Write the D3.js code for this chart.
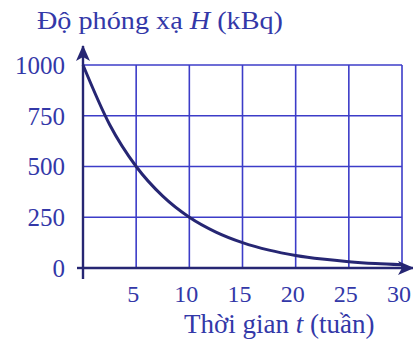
<!doctype html>
<html>
<head>
<meta charset="utf-8">
<style>
  body { margin: 0; background: #fff; }
  text { font-family: "Liberation Serif", "DejaVu Serif", serif; }
</style>
<script src="https://d3js.org/d3.v7.min.js"></script>
</head>
<body>
<svg width="413" height="341" id="chart"></svg>
<script>
  // data
  var weeks = [0, 2.5, 5, 7.5, 10, 12.5, 15, 17.5, 20, 22.5, 25, 27.5, 30];
  var activity = [1000, 707, 500, 354, 250, 177, 125, 88, 62, 44, 31, 22, 16];
  var xTicks = [5, 10, 15, 20, 25, 30];
  var yTicks = [0, 250, 500, 750, 1000];

  var gridColor = "#3c3cc8",
      textColor = "#3338a8",
      curveColor = "#262673";

  var svg = d3.select("svg");

  var x = d3.scaleLinear().domain([0, 30]).range([83, 402]),
      y = d3.scaleLinear().domain([0, 1000]).range([268, 65]);

  // grid
  svg.append("g").selectAll("line.v")
    .data(xTicks)
    .enter().append("line")
    .attr("x1", d => x(d)).attr("x2", d => x(d))
    .attr("y1", y(0)).attr("y2", y(1000))
    .attr("stroke", gridColor).attr("stroke-width", 1.6);

  svg.append("g").selectAll("line.h")
    .data(yTicks.filter(d => d > 0))
    .enter().append("line")
    .attr("x1", x(0)).attr("x2", x(30))
    .attr("y1", d => y(d)).attr("y2", d => y(d))
    .attr("stroke", gridColor).attr("stroke-width", 1.6);

  // axes with arrows
  svg.append("defs").append("marker")
    .attr("id", "arrow")
    .attr("viewBox", "0 0 16 14")
    .attr("refX", 15).attr("refY", 7)
    .attr("markerWidth", 16).attr("markerHeight", 14)
    .attr("markerUnits", "userSpaceOnUse")
    .attr("orient", "auto")
    .append("path").attr("d", "M0,0 L16,7 L0,14 L4,7 Z").attr("fill", curveColor);

  svg.append("line")
    .attr("x1", x(0)).attr("x2", 413)
    .attr("y1", y(0)).attr("y2", y(0))
    .attr("stroke", curveColor).attr("stroke-width", 2.4)
    .attr("marker-end", "url(#arrow)");

  svg.append("line")
    .attr("x1", x(0)).attr("x2", x(0))
    .attr("y1", y(0) + 11).attr("y2", 46)
    .attr("stroke", curveColor).attr("stroke-width", 2.4)
    .attr("marker-end", "url(#arrow)");

  svg.append("line")
    .attr("x1", x(0) - 6).attr("x2", x(0))
    .attr("y1", y(0)).attr("y2", y(0))
    .attr("stroke", curveColor).attr("stroke-width", 2.4);

  // tick labels
  svg.append("g").selectAll("text")
    .data(yTicks)
    .enter().append("text")
    .attr("x", 65).attr("y", d => y(d))
    .attr("dy", "0.35em")
    .attr("text-anchor", "end")
    .attr("font-size", 25)
    .attr("fill", textColor)
    .text(d => d);

  svg.append("g").selectAll("text")
    .data(xTicks)
    .enter().append("text")
    .attr("x", d => x(d) - 3).attr("y", 302)
    .attr("text-anchor", "middle")
    .attr("font-size", 24)
    .attr("fill", textColor)
    .text(d => d);

  // curve
  var pts = weeks.map((w, i) => [w, activity[i]]);
  svg.append("path")
    .datum(pts)
    .attr("fill", "none")
    .attr("stroke", curveColor)
    .attr("stroke-width", 3)
    .attr("d", d3.line().x(d => x(d[0])).y(d => y(d[1])).curve(d3.curveMonotoneX));

  // titles
  var t1 = svg.append("text")
    .attr("x", 37).attr("y", 29)
    .attr("font-size", 26)
    .attr("textLength", 246)
    .attr("lengthAdjust", "spacingAndGlyphs")
    .attr("fill", textColor);
  t1.append("tspan").text("Độ phóng xạ ");
  t1.append("tspan").attr("font-style", "italic").text("H");
  t1.append("tspan").text(" (kBq)");

  var t2 = svg.append("text")
    .attr("x", 184).attr("y", 333)
    .attr("font-size", 27)
    .attr("fill", textColor);
  t2.append("tspan").text("Thời gian ");
  t2.append("tspan").attr("font-style", "italic").text("t");
  t2.append("tspan").text(" (tuần)");
</script>
</body>
</html>
